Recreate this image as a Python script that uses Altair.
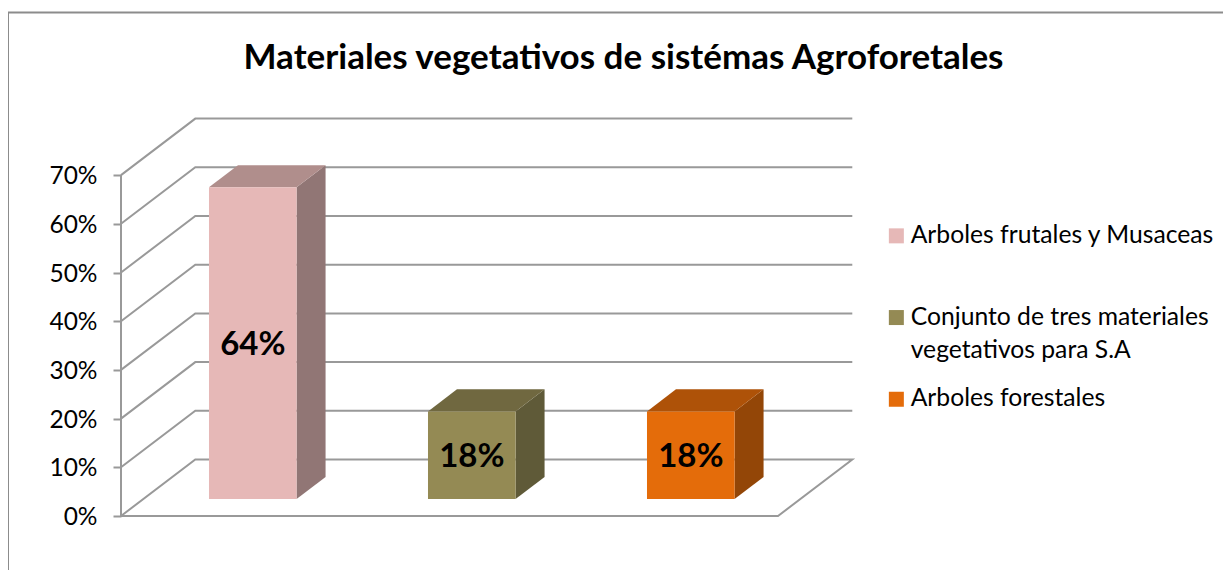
import altair as alt
import pandas as pd

categories = ["Arboles frutales y Musaceas", "Conjunto de tres materiales vegetativos para S.A", "Arboles forestales"]
values = [64, 18, 18]
labels = ["64%", "18%", "18%"]
ticks = [0, 10, 20, 30, 40, 50, 60, 70]
front_colors = ["#E6B8B7", "#948A54", "#E46C0A"]
top_colors = ["#B08E8C", "#706840", "#AE5208"]
side_colors = ["#917675", "#5F5A38", "#934607"]

# projection of the 3D depth axis, in data units (one category = 1, y in percent)
PX_CAT = 219.0
PX_PCT = 4.87
DEPTH_X = 74.3 / PX_CAT
DEPTH_Y = 56.5 / PX_PCT
BAR_NEAR, BAR_FAR = 0.30, 0.69
BAR_HALF = 0.2
N = len(categories)
W, H = 1215, 562
GRID = "#999999"

x_scale = alt.Scale(domain=[-113 / PX_CAT, (W - 113) / PX_CAT], range=[0, W], nice=False, zero=False)
y_scale = alt.Scale(domain=[-(H - 508) / PX_PCT, 508 / PX_PCT], range=[H, 0], nice=False, zero=False)
y_axis = alt.Axis(values=ticks, labelExpr="datum.value + '%'", title=None, domain=False, grid=False,
                  offset=-113, tickSize=8, tickWidth=2, tickColor=GRID, labelPadding=16, labelOffset=1.5,
                  labelFont="Lato", labelFontSize=24.5, labelColor="#000000")
X = lambda f: alt.X(f, type="quantitative", scale=x_scale, axis=None)
Y = lambda f: alt.Y(f, type="quantitative", scale=y_scale, axis=y_axis)

# wall grid lines
wall = []
for t in ticks[1:]:
    wall += [{"t": t, "o": 0, "x": 0, "y": t},
             {"t": t, "o": 1, "x": DEPTH_X, "y": t + DEPTH_Y},
             {"t": t, "o": 2, "x": N + DEPTH_X, "y": t + DEPTH_Y}]
walls = alt.Chart(pd.DataFrame(wall)).mark_line(color=GRID, strokeWidth=2).encode(
    x=X("x"), y=Y("y"), detail="t:N", order="o:Q")

floor = pd.DataFrame({"o": [0, 1, 2, 3, 4],
                      "x": [0, N, N + DEPTH_X, DEPTH_X, 0],
                      "y": [0, 0, DEPTH_Y, DEPTH_Y, 0]})
floors = alt.Chart(floor).mark_line(color=GRID, strokeWidth=2).encode(x=X("x"), y=Y("y"), order="o:Q")

# bars: front faces carry the legend
rows = []
for i, (c, v, lab) in enumerate(zip(categories, values, labels)):
    cx = i + 0.5 + BAR_NEAR * DEPTH_X
    rows.append({"cat": c, "label": lab, "x0": cx - BAR_HALF, "x1": cx + BAR_HALF,
                 "y0": BAR_NEAR * DEPTH_Y, "y1": v + BAR_NEAR * DEPTH_Y,
                 "ym": v / 2 + BAR_NEAR * DEPTH_Y})
bars_df = pd.DataFrame(rows)

faces = []
dd = BAR_FAR - BAR_NEAR
for i, r in bars_df.iterrows():
    side = pd.DataFrame({"x": [r.x1, r.x1 + dd * DEPTH_X],
                         "yb": [r.y0, r.y0 + dd * DEPTH_Y],
                         "yt": [r.y1, r.y1 + dd * DEPTH_Y]})
    faces.append(alt.Chart(side).mark_area(color=side_colors[i], opacity=1).encode(
        x=X("x"), y=Y("yb"), y2="yt"))
    top = pd.DataFrame({"y": [r.y1, r.y1 + dd * DEPTH_Y],
                        "xl": [r.x0, r.x0 + dd * DEPTH_X],
                        "xr": [r.x1, r.x1 + dd * DEPTH_X]})
    faces.append(alt.Chart(top).mark_area(color=top_colors[i], opacity=1, orient="horizontal").encode(
        y=Y("y"), x=X("xl"), x2="xr"))

wrap = ("datum.label == '" + categories[1] + "' ? ['Conjunto de tres materiales', 'vegetativos para S.A'] : datum.label")
fronts = alt.Chart(bars_df).mark_rect(opacity=1).encode(
    x=X("x0"), x2="x1", y=Y("y0"), y2="y1",
    color=alt.Color("cat:N", sort=categories,
                    scale=alt.Scale(domain=categories, range=front_colors),
                    legend=alt.Legend(title=None, orient="none", legendX=876, legendY=215.5,
                                      symbolType="square", symbolSize=225, symbolStrokeWidth=0,
                                      symbolOpacity=1, labelFont="Lato", labelFontSize=24.7,
                                      labelColor="#000000", labelLimit=400, labelExpr=wrap,
                                      labelOffset=2, gridAlign="all", rowPadding=22.7)))

bar_text = alt.Chart(bars_df).mark_text(font="Lato", fontWeight="bold", fontSize=33, color="#000000", dy=2).encode(
    x=alt.X("xm:Q", scale=x_scale, axis=None), y=Y("ym"), text="label:N"
).transform_calculate(xm="(datum.x0 + datum.x1) / 2")

frame_top = alt.Chart(pd.DataFrame({"a": [0]})).mark_rule(color="#8C8C8C", strokeWidth=2).encode(
    x=alt.value(0), x2=alt.value(W), y=alt.value(4.5))
frame_left = alt.Chart(pd.DataFrame({"a": [0]})).mark_rule(color="#8C8C8C", strokeWidth=2).encode(
    x=alt.value(0), y=alt.value(4.5), y2=alt.value(H))
front_axis = alt.Chart(pd.DataFrame({"a": [0], "b": [70]})).mark_rule(color=GRID, strokeWidth=2).encode(
    x=alt.value(113), y=Y("a"), y2="b")

chart = alt.layer(frame_top, frame_left, walls, floors, front_axis, *faces, fronts, bar_text).properties(
    width=W, height=H, padding=0,
    autosize=alt.AutoSizeParams(type="none", contains="padding"),
    title=alt.TitleParams("Materiales vegetativos de sistémas Agroforetales", font="Lato", fontSize=35,
                          fontWeight="bold", color="#000000", anchor="middle", offset=-68, dx=8),
    config=alt.Config(view=alt.ViewConfig(stroke="transparent"), style={"guide-label": {"lineHeight": 33}}),
)

chart.save("out.html", embed_options={"renderer": "svg", "actions": False})
